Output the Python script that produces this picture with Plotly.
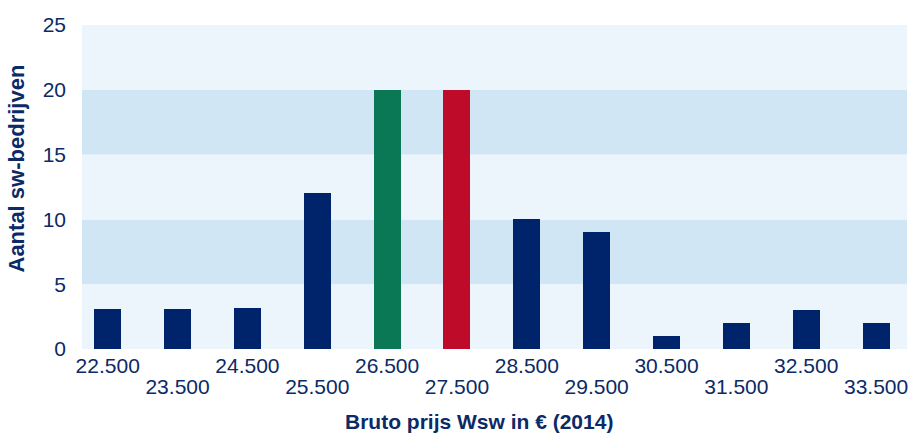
import plotly.graph_objects as go

categories = ["22.500", "23.500", "24.500", "25.500", "26.500", "27.500",
              "28.500", "29.500", "30.500", "31.500", "32.500", "33.500"]
values = [3.1, 3.1, 3.2, 12, 20, 20, 10, 9, 1, 2, 3, 2]
bar_colors = ["#00246B", "#00246B", "#00246B", "#00246B", "#0A7855", "#BE0B2A",
              "#00246B", "#00246B", "#00246B", "#00246B", "#00246B", "#00246B"]
y_ticks = [0, 5, 10, 15, 20, 25]
band_edges = [0, 5, 10, 15, 20, 25]
band_colors = ["#EDF5FC", "#D1E6F5", "#EDF5FC", "#D1E6F5", "#EDF5FC"]

TXT = "#0B2A66"
FONT = "Liberation Sans, Arial, sans-serif"

idx = list(range(len(categories)))
xr = [-0.368, 11.443]
even = idx[0::2]
odd = idx[1::2]

fig = go.Figure()
fig.add_trace(go.Bar(x=idx, y=values, marker=dict(color=bar_colors, line=dict(width=0)),
                     width=0.387, xaxis="x", yaxis="y", showlegend=False,
                     hoverinfo="x+y"))
# invisible helper trace so the second (odd-label) axis row is drawn
fig.add_trace(go.Scatter(x=odd, y=[0] * len(odd), xaxis="x2", yaxis="y",
                         mode="markers", marker=dict(opacity=0, size=1),
                         showlegend=False, hoverinfo="skip"))

shapes = []
for i, c in enumerate(band_colors):
    shapes.append(dict(type="rect", xref="paper", yref="y", x0=0, x1=1,
                       y0=band_edges[i], y1=band_edges[i + 1],
                       fillcolor=c, line=dict(width=0), layer="below"))

fig.update_layout(
    width=909, height=434,
    margin=dict(l=82, r=2, t=25, b=85, autoexpand=False),
    paper_bgcolor="white", plot_bgcolor="white",
    shapes=shapes,
    font=dict(family=FONT, size=21, color=TXT),
    xaxis=dict(range=xr, tickvals=even, ticktext=[categories[i] for i in even],
               showgrid=False, zeroline=False, showline=False, ticks="",
               automargin=False, ticklabelstandoff=2,
               tickfont=dict(size=21, color=TXT)),
    xaxis2=dict(range=xr, overlaying="x", anchor="y", side="bottom",
                tickvals=odd, ticktext=[categories[i] for i in odd],
                showgrid=False, zeroline=False, showline=False, ticks="",
                automargin=False, ticklabelstandoff=23,
                tickfont=dict(size=21, color=TXT)),
    yaxis=dict(range=[0, 25], tickvals=y_ticks, showgrid=False, zeroline=False,
               showline=False, ticks="", ticklabelstandoff=15, automargin=False,
               tickfont=dict(size=21, color=TXT)),
    bargap=0,
    annotations=[
        dict(text="<b>Aantal sw-bedrijven</b>", xref="paper", yref="paper",
             x=-0.0794, y=0.5586, xanchor="center", yanchor="middle",
             textangle=-90, showarrow=False, font=dict(size=22, color=TXT)),
        dict(text="<b>Bruto prijs Wsw in € (2014)</b>", xref="paper", yref="paper",
             x=0.481, y=-0.225, xanchor="center", yanchor="middle",
             showarrow=False, font=dict(size=21, color=TXT)),
    ],
)

fig.write_html("out.html", config={"displayModeBar": False},
               post_script="document.body.style.margin='0';document.body.style.overflow='hidden';")
